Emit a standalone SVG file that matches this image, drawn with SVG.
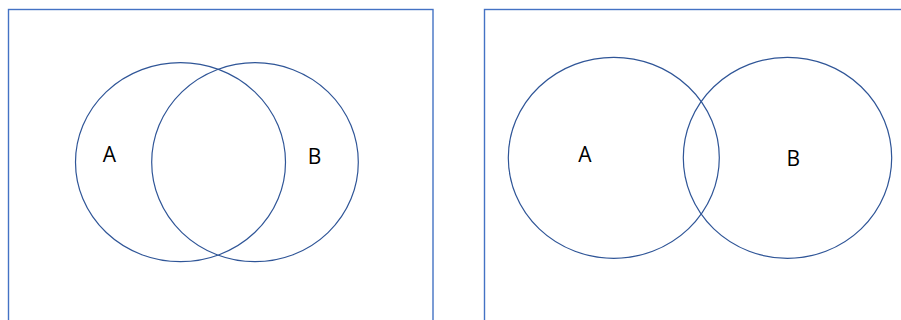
<svg xmlns="http://www.w3.org/2000/svg" width="901" height="320" viewBox="0 0 901 320">
<style>
.frame{fill:none;stroke:#4472C4;stroke-width:1.4}
.set{fill:none;stroke:#2F5597;stroke-width:1.2}
.lbl{font-family:"Open Sans","Liberation Sans",sans-serif;font-size:21px;fill:#000;text-anchor:middle}
</style>
<rect width="901" height="320" fill="#fff"/>
<g id="panel-left">
<rect class="frame" x="8.5" y="9.5" width="424.5" height="320"/>
<g id="left-A"><ellipse class="set" cx="180.5" cy="162.2" rx="105" ry="99.5"/><text class="lbl" x="109.5" y="161.5">A</text></g>
<g id="left-B"><ellipse class="set" cx="255" cy="162.2" rx="103.3" ry="99.5"/><text class="lbl" x="314.5" y="164.2">B</text></g>
</g>
<g id="panel-right">
<rect class="frame" x="484.5" y="9.5" width="430" height="320"/>
<g id="right-A"><ellipse class="set" cx="613.8" cy="157.8" rx="105.5" ry="100.5"/><text class="lbl" x="585" y="162.2">A</text></g>
<g id="right-B"><ellipse class="set" cx="787.5" cy="157.8" rx="104.2" ry="100.5"/><text class="lbl" x="793.3" y="165.5">B</text></g>
</g>
<g id="connectors"></g>
</svg>
